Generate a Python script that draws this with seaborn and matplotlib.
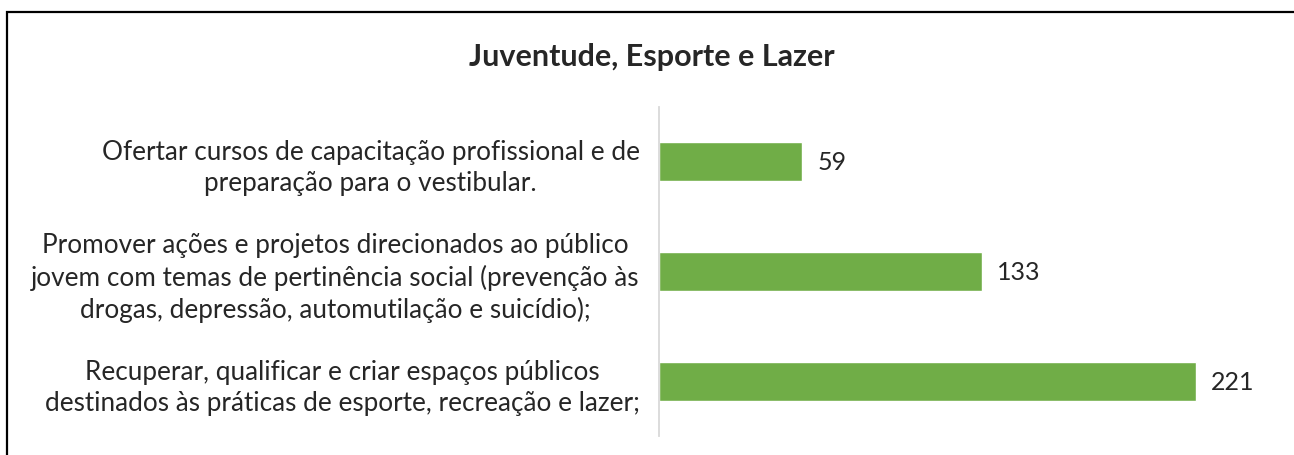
import matplotlib
matplotlib.use("Agg")
import matplotlib.pyplot as plt
import seaborn as sns
import pandas as pd
from matplotlib.patches import Rectangle

categories = [
    "Ofertar cursos de capacitação profissional e de\npreparação para o vestibular.",
    "Promover ações e projetos direcionados ao público\njovem com temas de pertinência social (prevenção às\ndrogas, depressão, automutilação e suicídio);",
    "Recuperar, qualificar e criar espaços públicos\ndestinados às práticas de esporte, recreação e lazer;",
]
values = [59, 133, 221]
title = "Juventude, Esporte e Lazer"

sns.set_style("white")
plt.rcParams["font.family"] = ["Lato", "DejaVu Sans"]

W, H = 1294, 456
fig = plt.figure(figsize=(W / 100, H / 100), dpi=100)

# frame around chart (only top/left visible in the crop)
fig.patches.append(Rectangle((7 / W, -0.1), 1.2, 1 - 13 / H + 0.1,
                             transform=fig.transFigure, fill=False,
                             edgecolor="black", linewidth=1.6))

ax = fig.add_axes([659 / W, 1 - 437 / H, (1276 - 659) / W, (437 - 108) / H])
df = pd.DataFrame({"label": categories, "value": values})
sns.barplot(data=df, x="value", y="label", orient="h", color="#70AD47",
            width=0.355, saturation=1, ax=ax)

ax.set_xlim(0, 254)
ax.set_ylim(2.5, -0.5)
ax.set_xlabel("")
ax.set_ylabel("")
ax.set_xticks([])
for s in ["top", "right", "bottom"]:
    ax.spines[s].set_visible(False)
ax.spines["left"].set_color("#D9D9D9")
ax.spines["left"].set_linewidth(1.3)

ax.tick_params(axis="y", length=0, pad=14)
for t in ax.get_yticklabels():
    t.set_fontsize(18.8)
    t.set_multialignment("center")
    t.set_linespacing(1.3)

ax.bar_label(ax.containers[0], labels=[str(v) for v in values],
             padding=11, fontsize=18)

fig.text(652 / W, 1 - 57 / H, title, ha="center", va="center",
         fontsize=22, fontweight="bold")

fig.savefig("out.png", dpi=100)
